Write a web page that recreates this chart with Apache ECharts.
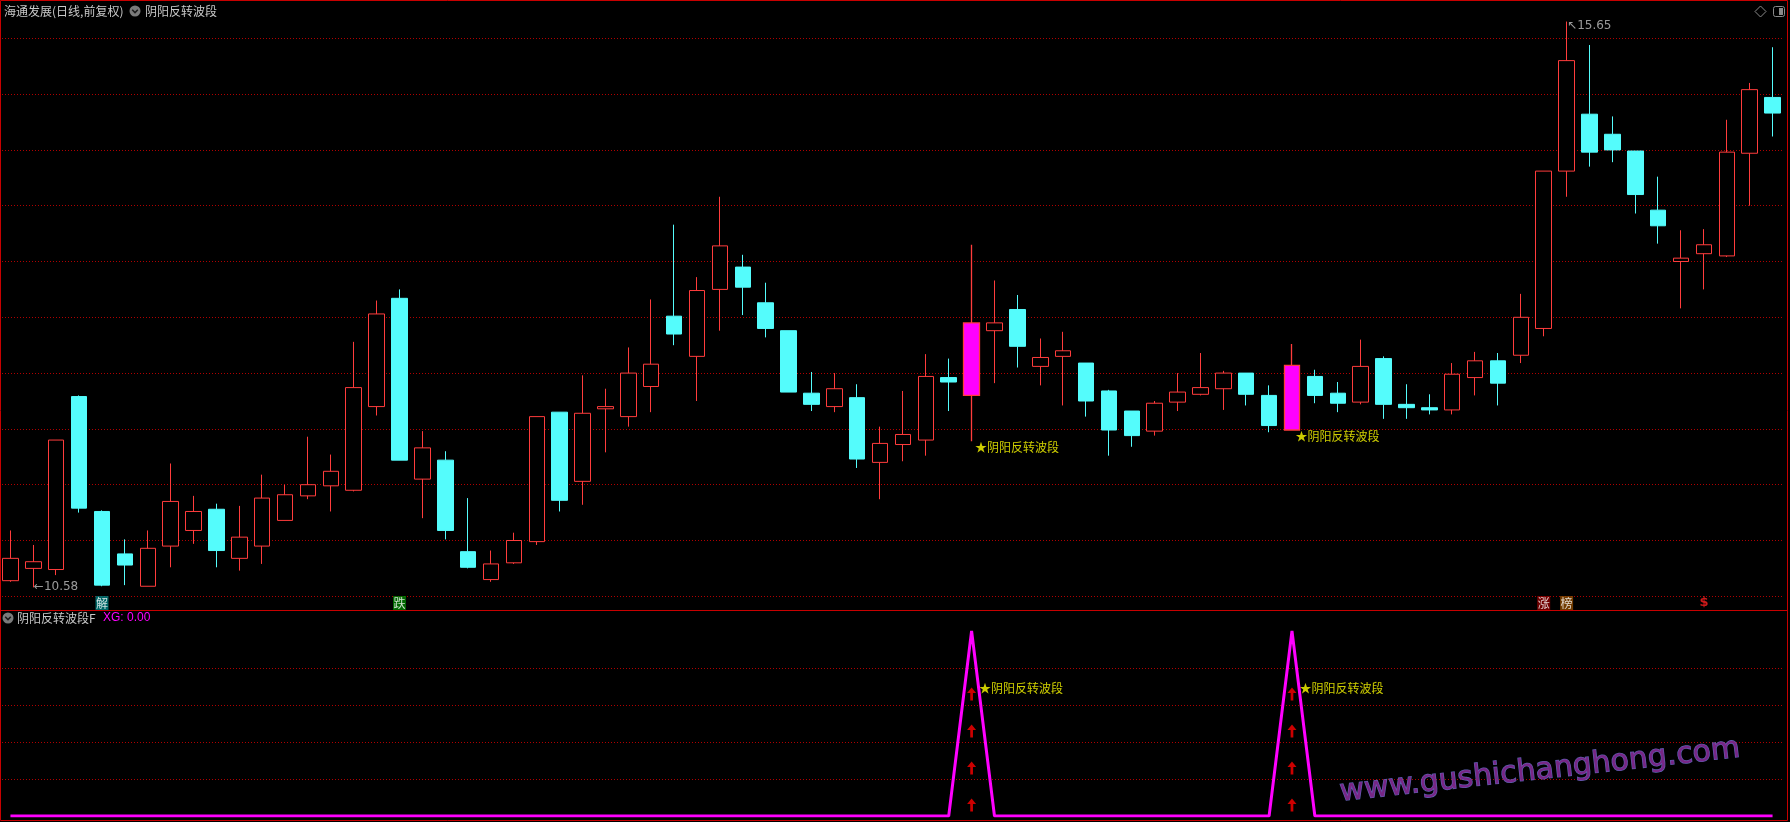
<!DOCTYPE html>
<html>
<head>
<meta charset="utf-8">
<script src="https://cdn.jsdelivr.net/npm/echarts/dist/echarts.min.js"></script>
<style>
html,body{margin:0;padding:0;background:#000;overflow:hidden;}
#c{width:1790px;height:822px;}
</style>
</head>
<body>
<div id="c"></div>
<script>
// ---- data ----
const opens  = [10.64,10.75,10.74,12.29,11.26,10.88,10.59,10.95,11.09,11.28,10.84,10.95,11.18,11.40,11.49,11.45,12.20,13.17,11.55,11.72,
                10.90,10.65,10.80,10.99,12.15,11.53,12.18,12.11,12.38,13.01,12.65,13.25,13.45,13.13,12.88,12.32,12.20,12.28,11.70,11.86,
                11.90,12.46,12.30,12.88,13.07,12.56,12.65,12.59,12.34,12.16,11.98,12.24,12.31,12.36,12.50,12.30,11.99,12.47,12.32,12.24,
                12.63,12.22,12.19,12.17,12.46,12.61,12.66,12.90,14.31,14.82,14.64,14.49,13.96,13.50,13.57,13.55,14.47,14.97];
const closes = [10.84,10.81,11.90,11.29,10.60,10.78,10.93,11.35,11.26,10.91,11.03,11.38,11.41,11.50,11.62,12.37,13.03,11.72,11.83,11.09,
                10.76,10.79,11.00,12.11,11.36,12.14,12.20,12.50,12.58,12.85,13.24,13.64,13.27,12.90,12.33,12.22,12.36,11.73,11.87,11.95,
                12.47,12.42,12.95,12.95,12.74,12.64,12.70,12.25,11.99,11.94,12.23,12.33,12.37,12.50,12.31,12.03,12.57,12.30,12.23,12.56,
                12.22,12.19,12.17,12.49,12.61,12.41,13.00,14.31,15.30,14.48,14.50,14.10,13.82,13.53,13.65,14.48,15.04,14.83];
const lows   = [10.63,10.58,10.69,11.25,10.59,10.60,10.59,10.76,10.97,10.76,10.73,10.79,11.18,11.37,11.26,11.44,12.12,11.72,11.20,11.01,
                10.75,10.63,10.79,10.96,11.26,11.32,11.79,12.02,12.15,12.75,12.25,12.88,13.02,12.82,12.33,12.16,12.15,11.65,11.37,11.71,
                11.76,12.16,11.89,12.41,12.55,12.39,12.21,12.11,11.76,11.84,11.94,12.16,12.30,12.17,12.21,11.97,11.99,12.23,12.15,12.22,
                12.09,12.09,12.13,12.13,12.30,12.21,12.59,12.83,14.08,14.35,14.39,13.93,13.66,13.08,13.25,13.54,14.00,14.62];
const highs  = [11.09,10.96,11.90,12.30,11.27,11.01,11.09,11.69,11.40,11.33,11.31,11.59,11.50,11.93,11.77,12.78,13.15,13.25,11.98,11.80,
                11.38,10.91,11.07,12.11,12.15,12.48,12.36,12.73,13.16,13.83,13.36,14.08,13.56,13.31,12.88,12.51,12.50,12.40,12.02,12.34,
                12.67,12.63,13.65,13.33,13.20,12.81,12.87,12.59,12.35,12.16,12.25,12.50,12.68,12.52,12.50,12.39,12.76,12.53,12.42,12.80,
                12.65,12.40,12.31,12.59,12.69,12.68,13.21,14.31,15.65,15.44,14.80,14.49,14.26,13.78,13.79,14.77,15.10,15.42];

// XG indicator (sub panel)
const xg = [0,0,0,0,0,0,0,0,0,0,0,0,0,0,0,0,0,0,0,0,
            0,0,0,0,0,0,0,0,0,0,0,0,0,0,0,0,0,0,0,0,
            0,0,1,0,0,0,0,0,0,0,0,0,0,0,0,0,1,0,0,0,
            0,0,0,0,0,0,0,0,0,0,0,0,0,0,0,0,0,0];
const signalIdx   = [42, 56];
const signalText  = '★阴阳反转波段';
const arrowLevels = [0.06, 0.26, 0.46, 0.66];
const subLabelLevel = 0.69;

// bottom markers on the price panel
const markerIdx  = [4, 17, 67, 68];
const markerText = ['解', '跌', '涨', '榜'];
const markerBg   = ['#008080', '#008000', '#8c0000', '#8c4a00'];
const markerLevel = 10.44;
const dollarIdx = [74];

// extremes
const lowIdx = 1, lowText = '←10.58';
const highIdx = 68, highText = '↖15.65';

// price axis ticks
const priceMin = 10.5, priceMax = 15.5, priceStep = 0.5;

const categories = opens.map((_, i) => 'D' + (i + 1));

// ---- build ----
const UP = '#ff3c3c', DOWN = '#54fcfc', GRID = '#b00000', BORDER = '#c80000';
const CJK = '"Noto Sans CJK SC", "Noto Sans", sans-serif';

const kData = opens.map((o, i) => {
  const it = { value: [o, closes[i], lows[i], highs[i]] };
  if (signalIdx.indexOf(i) >= 0) it.itemStyle = { color: '#ff00ff', borderColor: UP, color0: '#ff00ff', borderColor0: UP, borderWidth: 1.3 };
  return it;
});

const arrowData = [];
signalIdx.forEach(i => arrowLevels.forEach(l => arrowData.push([i, l])));

const chart = echarts.init(document.getElementById('c'), null, { renderer: 'canvas' });

const hiddenX = (gi) => ({
  type: 'category', gridIndex: gi, data: categories, boundaryGap: true,
  axisLine: { show: false }, axisTick: { show: false }, axisLabel: { show: false }, splitLine: { show: false }
});

chart.setOption({
  backgroundColor: '#000000',
  animation: false,
  grid: [
    { left: -1, width: 1785, top: 38.3, height: 558, outerBoundsMode: 'none' },
    { left: -1, width: 1785, top: 631, height: 185, outerBoundsMode: 'none' }
  ],
  xAxis: [hiddenX(0), hiddenX(1)],
  yAxis: [
    { type: 'value', gridIndex: 0, min: priceMin, max: priceMax, interval: priceStep, scale: true,
      axisLine: { show: false }, axisTick: { show: false }, axisLabel: { show: false },
      splitLine: { show: true, lineStyle: { color: GRID, width: 1, type: [1, 2] } } },
    { type: 'value', gridIndex: 1, min: 0, max: 1, interval: 0.2,
      axisLine: { show: false }, axisTick: { show: false }, axisLabel: { show: false },
      splitLine: { show: true, lineStyle: { color: ['rgba(0,0,0,0)', GRID, GRID, GRID, GRID, 'rgba(0,0,0,0)'], width: 1, type: [1, 2] } } }
  ],
  series: [
    {
      type: 'candlestick', xAxisIndex: 0, yAxisIndex: 0, data: kData, barWidth: 16, clip: false,
      itemStyle: { color: '#000000', color0: DOWN, borderColor: UP, borderColor0: DOWN, borderWidth: 1 }
    },
    { // signal labels on price panel
      type: 'scatter', xAxisIndex: 0, yAxisIndex: 0, clip: false, symbolSize: 1,
      itemStyle: { color: 'rgba(0,0,0,0)' },
      data: signalIdx.map(i => [i, lows[i]]),
      label: { show: true, position: 'right', distance: 3, offset: [0, 6], formatter: signalText,
               color: '#ffff00', fontSize: 12, fontFamily: CJK }
    },
    { // low extreme
      type: 'scatter', xAxisIndex: 0, yAxisIndex: 0, clip: false, symbolSize: 1,
      itemStyle: { color: 'rgba(0,0,0,0)' },
      data: [[lowIdx, lows[lowIdx]]],
      label: { show: true, position: 'right', distance: 0, offset: [0, 0], formatter: lowText,
               color: '#c0c0c0', fontSize: 12, fontFamily: '"DejaVu Sans", sans-serif' }
    },
    { // high extreme
      type: 'scatter', xAxisIndex: 0, yAxisIndex: 0, clip: false, symbolSize: 1,
      itemStyle: { color: 'rgba(0,0,0,0)' },
      data: [[highIdx, highs[highIdx]]],
      label: { show: true, position: 'right', distance: 0, offset: [0, 4], formatter: highText,
               color: '#c0c0c0', fontSize: 12, fontFamily: '"DejaVu Sans", sans-serif' }
    },
    { // boxed markers
      type: 'scatter', xAxisIndex: 0, yAxisIndex: 0, clip: false, symbol: 'rect', symbolSize: [13, 14],
      data: markerIdx.map((i, k) => ({ value: [i, markerLevel], itemStyle: { color: markerBg[k] },
              label: { formatter: markerText[k] } })),
      label: { show: true, position: 'inside', color: '#ffffff', fontSize: 12, fontFamily: CJK }
    },
    { // dollar marker
      type: 'scatter', xAxisIndex: 0, yAxisIndex: 0, clip: false, symbolSize: 1,
      itemStyle: { color: 'rgba(0,0,0,0)' },
      data: dollarIdx.map(i => [i, markerLevel]),
      label: { show: true, position: 'inside', formatter: '$', color: '#ff2020', fontSize: 13, fontWeight: 'bold',
               fontFamily: '"DejaVu Sans", sans-serif' }
    },
    { // XG line
      type: 'line', xAxisIndex: 1, yAxisIndex: 1, data: xg, symbol: 'none',
      lineStyle: { color: '#ff00ff', width: 3 }
    },
    { // red arrows
      type: 'scatter', xAxisIndex: 1, yAxisIndex: 1, clip: false,
      symbol: 'path://M5,0 L10,6 L6.5,6 L6.5,14 L3.5,14 L3.5,6 L0,6 Z', symbolSize: [9, 13],
      itemStyle: { color: '#ff0000' }, data: arrowData
    },
    { // sub labels
      type: 'scatter', xAxisIndex: 1, yAxisIndex: 1, clip: false, symbolSize: 1,
      itemStyle: { color: 'rgba(0,0,0,0)' },
      data: signalIdx.map(i => [i, subLabelLevel]),
      label: { show: true, position: 'right', distance: 7, formatter: signalText,
               color: '#ffff00', fontSize: 12, fontFamily: CJK }
    }
  ],
  graphic: { elements: [
    // borders
    { type: 'rect', shape: { x: 0.5, y: 0.5, width: 1787, height: 820 }, style: { fill: null, stroke: BORDER, lineWidth: 1 }, z: 100 },
    { type: 'line', shape: { x1: 0, y1: 610.5, x2: 1788, y2: 610.5 }, style: { stroke: BORDER, lineWidth: 1 }, z: 100 },
    // header main
    { type: 'text', x: 4, y: 11, style: { text: '海通发展(日线,前复权)', fill: '#c8c8c8', font: '12px ' + CJK, verticalAlign: 'middle' }, z: 100 },
    { type: 'circle', shape: { cx: 135, cy: 11, r: 5.5 }, style: { fill: '#7a7a7a' }, z: 100 },
    { type: 'polyline', shape: { points: [[132.2, 9.8], [135, 12.6], [137.8, 9.8]] }, style: { stroke: '#1a1a1a', lineWidth: 1.5, fill: null }, z: 101 },
    { type: 'text', x: 145, y: 11, style: { text: '阴阳反转波段', fill: '#c8c8c8', font: '12px ' + CJK, verticalAlign: 'middle' }, z: 100 },
    // header sub
    { type: 'circle', shape: { cx: 8, cy: 618, r: 5.5 }, style: { fill: '#7a7a7a' }, z: 100 },
    { type: 'polyline', shape: { points: [[5.2, 616.8], [8, 619.6], [10.8, 616.8]] }, style: { stroke: '#1a1a1a', lineWidth: 1.5, fill: null }, z: 101 },
    { type: 'text', x: 17, y: 618, style: { text: '阴阳反转波段F', fill: '#c8c8c8', font: '12px ' + CJK, verticalAlign: 'middle' }, z: 100 },
    { type: 'text', x: 103, y: 618, style: { text: 'XG: 0.00', fill: '#ff00ff', font: '12px "Liberation Sans", sans-serif', verticalAlign: 'middle' }, z: 100 },
    // top-right icons
    { type: 'polygon', shape: { points: [[1760.5, 6], [1766, 11.5], [1760.5, 17], [1755, 11.5]] }, style: { fill: null, stroke: '#8a8a8a', lineWidth: 1 }, z: 100 },
    { type: 'rect', shape: { x: 1773.5, y: 6.5, width: 11, height: 10, r: 2 }, style: { fill: null, stroke: '#8a8a8a', lineWidth: 1 }, z: 100 },
    { type: 'rect', shape: { x: 1779, y: 8, width: 4, height: 7 }, style: { fill: '#8a8a8a' }, z: 100 },
    // watermark
    { type: 'text', x: 1540, y: 771, rotation: 0.11,
      style: { text: 'www.gushichanghong.com', font: '30px "DejaVu Sans", sans-serif', fill: 'rgba(125,40,140,0.95)',
               stroke: 'rgba(110,115,210,0.85)', lineWidth: 1.2, align: 'center', verticalAlign: 'middle' }, z: 90 }
  ] }
});
</script>
</body>
</html>
